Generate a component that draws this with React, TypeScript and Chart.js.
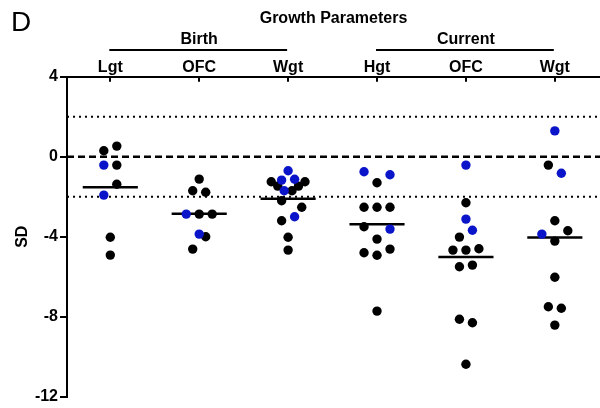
import { useEffect, useRef } from 'react';
import { Chart, registerables } from 'chart.js';

Chart.register(...registerables);

const FONT = '"Liberation Sans", Arial, Helvetica, sans-serif';

const panelLetter = 'D';
const chartTitle = 'Growth Parameters';
const categories = ['Lgt', 'OFC', 'Wgt', 'Hgt', 'OFC', 'Wgt'];
const groupLabels = ['Birth', 'Current'];
const groupFirst = [0, 3];
const groupLast = [2, 5];
const yTicks = [4, 0, -4, -8, -12];
const yAxisTitle = 'SD';
const referenceLines = [2, 0, -2];

const lgtBirth = [0.3, 0.53, -0.42, -0.42, -1.38, -1.92, -4.03, -4.92];
const lgtBirthBlue = [0, 0, 1, 0, 0, 1, 0, 0];
const lgtBirthLane = [-0.5, 0.5, -0.5, 0.5, 0.5, -0.5, 0, 0];

const ofcBirth = [-1.12, -1.7, -1.78, -2.87, -2.87, -2.87, -3.87, -4.0, -4.62];
const ofcBirthBlue = [0, 0, 0, 1, 0, 0, 1, 0, 0];
const ofcBirthLane = [0, -0.5, 0.5, -1, 0, 1, 0, 0.5, -0.5];

const wgtBirth = [-0.7, -1.17, -1.13, -1.25, -1.25, -1.47, -1.47, -1.7, -1.7, -2.2, -2.53, -3.0, -3.2, -4.03, -4.67];
const wgtBirthBlue = [1, 1, 1, 0, 0, 0, 0, 1, 0, 0, 0, 1, 0, 0, 0];
const wgtBirthLane = [0, -0.5, 0.5, -1.3, 1.3, -0.8, 0.8, -0.3, 0.3, -0.5, 1.05, 0.5, -0.5, 0, 0];

const hgtCurrent = [-0.75, -0.9, -1.3, -2.53, -2.53, -2.53, -3.5, -3.62, -4.12, -4.8, -4.93, -4.62, -7.72];
const hgtCurrentBlue = [1, 1, 0, 0, 0, 0, 0, 1, 0, 0, 0, 0, 0];
const hgtCurrentLane = [-1, 1, 0, -1, 0, 1, -1, 1, 0, -1, 0, 1, 0];

const ofcCurrent = [-0.42, -2.3, -3.12, -3.68, -4.02, -4.67, -4.67, -4.6, -5.5, -5.42, -8.13, -8.3, -10.38];
const ofcCurrentBlue = [1, 0, 1, 1, 0, 0, 0, 0, 0, 0, 0, 0, 0];
const ofcCurrentLane = [0, 0, 0, 0.5, -0.5, -1, 0, 1, -0.5, 0.5, -0.5, 0.5, 0];

const wgtCurrent = [1.29, -0.42, -0.83, -3.2, -3.7, -3.87, -4.22, -6.03, -7.5, -7.58, -8.42];
const wgtCurrentBlue = [1, 0, 1, 0, 0, 1, 0, 0, 0, 0, 0];
const wgtCurrentLane = [0, -0.5, 0.5, 0, 1, -1, 0, 0, -0.5, 0.5, 0];

const columnValues = [lgtBirth, ofcBirth, wgtBirth, hgtCurrent, ofcCurrent, wgtCurrent];
const columnBlue = [lgtBirthBlue, ofcBirthBlue, wgtBirthBlue, hgtCurrentBlue, ofcCurrentBlue, wgtCurrentBlue];
const columnLane = [lgtBirthLane, ofcBirthLane, wgtBirthLane, hgtCurrentLane, ofcCurrentLane, wgtCurrentLane];

const X_MIN = 0.513;
const X_MAX = 6.508;
const LANE = 0.146;
const MEAN_HALF = 0.31;
const BLACK = '#000000';
const BLUE = '#0a14c8';

function buildDots(blueWanted: number) {
  const pts: { x: number; y: number }[] = [];
  columnValues.forEach((vals, c) => {
    vals.forEach((v, i) => {
      if (columnBlue[c][i] === blueWanted) {
        pts.push({ x: c + 1 + columnLane[c][i] * LANE, y: v });
      }
    });
  });
  return pts;
}

const headerPlugin = {
  id: 'header',
  afterDraw(chart: any) {
    const { ctx, chartArea, scales } = chart;
    const xs = scales.x;
    ctx.save();
    ctx.fillStyle = '#000';
    ctx.strokeStyle = '#000';
    ctx.font = `28px ${FONT}`;
    ctx.textAlign = 'left';
    ctx.textBaseline = 'alphabetic';
    ctx.fillText(panelLetter, 11, 31);
    ctx.font = `bold 16px ${FONT}`;
    ctx.textAlign = 'center';
    ctx.textBaseline = 'middle';
    ctx.fillText(chartTitle, (chartArea.left + chartArea.right) / 2, 19);
    groupLabels.forEach((g, i) => {
      const x1 = xs.getPixelForValue(groupFirst[i] + 1);
      const x2 = xs.getPixelForValue(groupLast[i] + 1);
      ctx.fillText(g, (x1 + x2) / 2, 40);
      ctx.beginPath();
      ctx.moveTo(x1 - 1, 50);
      ctx.lineTo(x2 - 1, 50);
      ctx.lineWidth = 2;
      ctx.stroke();
    });
    ctx.restore();
  },
};

export default function App() {
  const ref = useRef<HTMLCanvasElement>(null);

  useEffect(() => {
    if (!ref.current) return;
    const datasets: any[] = [];
    datasets.push({
      type: 'scatter',
      label: 'Blue',
      data: buildDots(1),
      pointRadius: 4.7,
      pointBorderWidth: 0,
      pointBackgroundColor: BLUE,
      backgroundColor: BLUE,
      order: 0,
    });
    datasets.push({
      type: 'scatter',
      label: 'Black',
      data: buildDots(0),
      pointRadius: 4.7,
      pointBorderWidth: 0,
      pointBackgroundColor: BLACK,
      backgroundColor: BLACK,
      order: 1,
    });
    columnValues.forEach((vals, c) => {
      const mean = vals.reduce((a, b) => a + b, 0) / vals.length;
      datasets.push({
        type: 'line',
        label: 'mean ' + categories[c],
        data: [
          { x: c + 1 - MEAN_HALF, y: mean },
          { x: c + 1 + MEAN_HALF, y: mean },
        ],
        borderColor: BLACK,
        borderWidth: 2.5,
        pointRadius: 0,
        order: 2,
      });
    });
    referenceLines.forEach((v) => {
      datasets.push({
        type: 'line',
        label: 'ref ' + v,
        data: [
          { x: X_MIN, y: v },
          { x: X_MAX, y: v },
        ],
        borderColor: BLACK,
        borderWidth: v === 0 ? 2.5 : 2,
        borderDash: v === 0 ? [7, 4] : [2, 4],
        borderCapStyle: 'butt',
        pointRadius: 0,
        order: 3,
      });
    });

    const chart = new Chart(ref.current, {
      type: 'scatter',
      data: { datasets },
      plugins: [headerPlugin],
      options: {
        responsive: false,
        animation: false,
        devicePixelRatio: 1,
        layout: { autoPadding: false, padding: { top: 0, left: 0, right: 0, bottom: 11.3 } },
        plugins: {
          legend: { display: false },
          tooltip: { enabled: false },
          title: { display: false },
        },
        scales: {
          x: {
            type: 'linear',
            position: 'top',
            min: X_MIN,
            max: X_MAX,
            afterBuildTicks: (s: any) => {
              s.ticks = categories.map((_, i) => ({ value: i + 1 }));
            },
            afterFit: (s: any) => {
              s.height = 76.7;
              s.paddingLeft = 0;
              s.paddingRight = 0;
            },
            ticks: {
              callback: (_v: any, i: number) => categories[i] ?? '',
              color: '#000',
              font: { family: FONT, size: 16, weight: 'bold', lineHeight: 1.825 },
              padding: 0,
              maxRotation: 0,
              autoSkip: false,
            },
            grid: { drawOnChartArea: false, tickLength: -5, color: '#000', lineWidth: 2 },
            border: { color: '#000', width: 2 },
          },
          y: {
            type: 'linear',
            min: -12,
            max: 4,
            afterBuildTicks: (s: any) => {
              s.ticks = yTicks.map((v) => ({ value: v }));
            },
            afterFit: (s: any) => {
              s.width = 67;
            },
            ticks: {
              color: '#000',
              font: { family: FONT, size: 16, weight: 'bold', lineHeight: 1 },
              padding: 2,
            },
            grid: { drawOnChartArea: false, tickLength: 7, color: '#000', lineWidth: 2 },
            border: { color: '#000', width: 2 },
            title: {
              display: true,
              text: yAxisTitle,
              color: '#000',
              font: { family: FONT, size: 16, weight: 'bold', lineHeight: 1.2 },
              padding: { top: 13, bottom: 0 },
            },
          },
        },
      } as any,
    });
    return () => chart.destroy();
  }, []);

  return (
    <div style={{ position: 'fixed', left: 0, top: 0, width: 600, height: 408, background: '#fff' }}>
      <canvas ref={ref} width={600} height={408} style={{ display: 'block', width: 600, height: 408 }} />
    </div>
  );
}
